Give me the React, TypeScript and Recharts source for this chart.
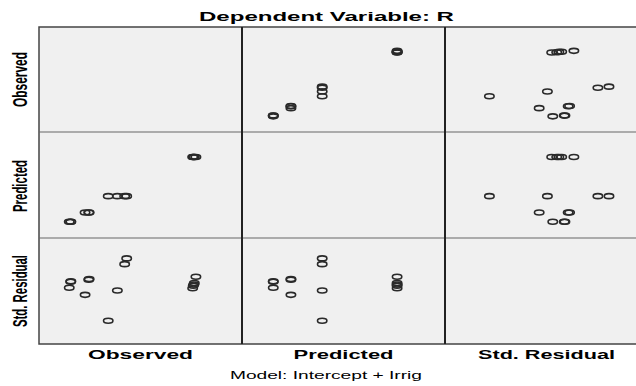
import { Scatter, ScatterChart, XAxis, YAxis } from "recharts";

// one entry per case, grouped by the four Irrig levels
const observed = [15.6, 15.7, 14.9, 24.5, 24.7, 22.7, 43.2, 42.2, 38.6, 34.1, 77.3, 76.5, 76.3, 76.0, 75.7];
const predicted = [15.4, 15.4, 15.4, 24.1, 24.1, 24.1, 39.5, 39.5, 39.5, 39.5, 76.4, 76.4, 76.4, 76.4, 76.4];
const stdResidual = [0.09, 0.11, -0.23, 0.2, 0.24, -0.61, 1.34, 1.03, -0.38, -2.0, 0.36, 0.02, -0.06, -0.12, -0.26];

const varNames = ["Observed", "Predicted", "Std. Residual"];
const varValues = [observed, predicted, stdResidual];
const varDomains: [number, number][] = [
  [0, 100],
  [0, 100],
  [-3.24, 2.43],
];

const colEdges = [39, 242, 445, 648];
const rowEdges = [27, 132, 238, 344];

const Ring = (props: any) => {
  const { cx, cy } = props;
  if (cx == null || cy == null) return null;
  return <ellipse cx={cx} cy={cy} rx={4.7} ry={2.5} fill="none" stroke="#2a2a2a" strokeWidth={1.6} />;
};

const Cell = ({ row, col }: { row: number; col: number }) => {
  const w = colEdges[col + 1] - colEdges[col];
  const h = rowEdges[row + 1] - rowEdges[row];
  const data = varValues[col].map((v, k) => ({ x: v, y: varValues[row][k] }));
  return (
    <div style={{ position: "absolute", left: colEdges[col], top: rowEdges[row], width: w, height: h }}>
      <ScatterChart width={w} height={h} margin={{ top: 0, right: 0, bottom: 0, left: 0 }}>
        <XAxis type="number" dataKey="x" hide domain={varDomains[col]} allowDataOverflow />
        <YAxis type="number" dataKey="y" hide domain={varDomains[row]} allowDataOverflow />
        <Scatter data={data} shape={<Ring />} isAnimationActive={false} />
      </ScatterChart>
    </div>
  );
};

const labelFont = "'Liberation Sans', Arial, sans-serif";

export default function App() {
  const cells = [];
  for (let r = 0; r < 3; r++) {
    for (let c = 0; c < 3; c++) {
      if (r !== c) cells.push(<Cell key={`${r}-${c}`} row={r} col={c} />);
    }
  }
  const colCenters = [140.5, 343.5, 546.5];
  const colLabelLen = [105, 100, 137];
  const rowCenters = [79.5, 186, 291];
  const rowLabelLen = [55, 52, 72];

  return (
    <div style={{ position: "fixed", left: 0, top: 0, width: 636, height: 386, overflow: "hidden", background: "#fff" }}>
      <div
        style={{
          position: "absolute",
          left: colEdges[0],
          top: rowEdges[0],
          width: colEdges[3] - colEdges[0],
          height: rowEdges[3] - rowEdges[0],
          background: "#f0f0f0",
        }}
      />
      {cells}
      <svg width={660} height={386} style={{ position: "absolute", left: 0, top: 0, pointerEvents: "none" }}>
        {/* grid lines */}
        <rect
          x={colEdges[0]}
          y={rowEdges[0]}
          width={colEdges[3] - colEdges[0]}
          height={rowEdges[3] - rowEdges[0]}
          fill="none"
          stroke="#444"
          strokeWidth={1.5}
        />
        {[1, 2].map((i) => (
          <line key={`r${i}`} x1={colEdges[0]} x2={colEdges[3]} y1={rowEdges[i]} y2={rowEdges[i]} stroke="#666" strokeWidth={1} />
        ))}
        {[1, 2].map((i) => (
          <line key={`c${i}`} x1={colEdges[i]} x2={colEdges[i]} y1={rowEdges[0]} y2={rowEdges[3]} stroke="#222" strokeWidth={2} />
        ))}

        <text
          x={326.5}
          y={21}
          textAnchor="middle"
          fontFamily={labelFont}
          fontWeight="bold"
          fontSize={12.5}
          textLength={255}
          lengthAdjust="spacingAndGlyphs"
        >
          Dependent Variable: R
        </text>

        {varNames.map((n, i) => (
          <text
            key={`b${n}`}
            x={colCenters[i]}
            y={359}
            textAnchor="middle"
            fontFamily={labelFont}
            fontWeight="bold"
            fontSize={12.5}
            textLength={colLabelLen[i]}
            lengthAdjust="spacingAndGlyphs"
          >
            {n}
          </text>
        ))}

        {varNames.map((n, i) => (
          <text
            key={`l${n}`}
            transform={`translate(26.5, ${rowCenters[i]}) rotate(-90) scale(1, 1.5)`}
            textAnchor="middle"
            fontFamily={labelFont}
            fontWeight="bold"
            fontSize={13}
            textLength={rowLabelLen[i]}
            lengthAdjust="spacingAndGlyphs"
          >
            {n}
          </text>
        ))}

        <text
          x={326}
          y={378.5}
          textAnchor="middle"
          fontFamily={labelFont}
          fontSize={10}
          textLength={192}
          lengthAdjust="spacingAndGlyphs"
        >
          Model: Intercept + Irrig
        </text>
      </svg>
    </div>
  );
}
